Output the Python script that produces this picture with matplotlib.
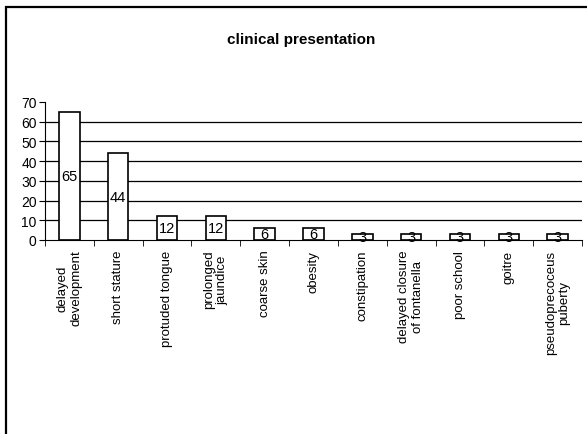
import matplotlib.pyplot as plt
import matplotlib.patches as mpatches
import numpy as np

plt.rcParams['font.family'] = ['Liberation Sans', 'DejaVu Sans']

symptoms = ["delayed\ndevelopment", "short stature", "protuded tongue",
            "prolonged\njaundice", "coarse skin", "obesity", "constipation",
            "delayed closure\nof fontanella", "poor school", "goitre",
            "pseudoprecoceus\npuberty"]
cases = [65, 44, 12, 12, 6, 6, 3, 3, 3, 3, 3]
y_ticks = [0, 10, 20, 30, 40, 50, 60, 70]

fig = plt.figure(figsize=(5.87, 4.35), dpi=100)
ax = fig.add_axes([45 / 587, 194 / 435, 537 / 587, 138 / 435])

x = np.arange(len(cases))
# white bars, then the numbers, then the outlines on top of the numbers
ax.bar(x, cases, width=0.42, color="white", edgecolor="none", zorder=2)
for xi, v in zip(x, cases):
    ax.text(xi, v / 2, str(v), ha="center", va="center", fontsize=10.5, zorder=3)
ax.bar(x, cases, width=0.42, fill=False, edgecolor="black", linewidth=1.2, zorder=4)

ax.set_xlim(-0.5, len(cases) - 0.5)
ax.set_ylim(0, 70)
ax.set_yticks(y_ticks)
ax.tick_params(axis="y", labelsize=10, length=4, direction="out", pad=2)
for g in y_ticks[1:-1]:
    ax.axhline(g, color="black", linewidth=0.9, zorder=1)

ax.set_xticks(x)
ax.set_xticklabels(symptoms, rotation=90, fontsize=9.5, ha="center", va="top",
                   multialignment="center")
ax.tick_params(axis="x", length=0, pad=7)
ax.set_xticks(np.arange(len(cases) + 1) - 0.5, minor=True)
ax.tick_params(axis="x", which="minor", length=4, direction="out")

ax.spines["top"].set_visible(False)
ax.spines["right"].set_visible(False)

fig.text(301 / 587, 1 - 40 / 435, "clinical presentation", ha="center", va="center",
         fontsize=11, fontweight="bold")

# frame around the whole chart
fig.patches.append(mpatches.Rectangle((6 / 587, -0.05), 1.1, 1 - 8 / 435 + 0.05,
                                      transform=fig.transFigure, fill=False,
                                      edgecolor="black", linewidth=1.6))

fig.savefig("out.png", dpi=100)
